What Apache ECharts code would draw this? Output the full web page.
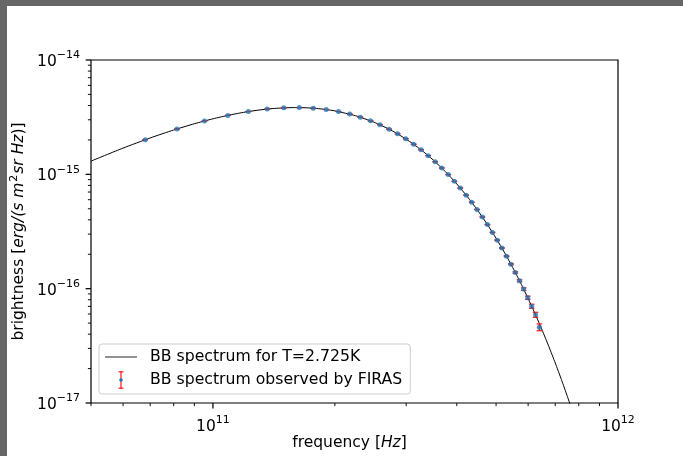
<!DOCTYPE html>
<html>
<head>
<meta charset="utf-8">
<script src="https://cdn.jsdelivr.net/npm/echarts@6/dist/echarts.min.js"></script>
<style>
  html, body { margin: 0; padding: 0; background: #fff; }
  #chart { position: absolute; left: 0; top: 0; width: 683px; height: 456px; }
  .edge { position: absolute; background: #666666; z-index: 10; }
</style>
</head>
<body>
<div id="chart"></div>
<div class="edge" style="left:0;top:0;width:683px;height:6px;"></div>
<div class="edge" style="left:0;top:0;width:7px;height:456px;"></div>
<script>
// Black-body curve (T = 2.725 K), frequency in GHz, brightness in units of 1e-15 erg/(s cm^2 sr Hz)
const curveFreqGHz = [50, 60, 70, 80, 90, 100, 110, 120, 130, 140, 150, 160, 170, 180, 190, 200, 225, 250, 275, 300, 325, 350, 375, 400, 425, 450, 475, 500, 525, 550, 575, 600, 625, 650, 675, 700, 725, 750, 780];
const curveBright15 = [1.3049, 1.6968, 2.0805, 2.4420, 2.7706, 3.0595, 3.3039, 3.5017, 3.6519, 3.7566, 3.8167, 3.8368, 3.8196, 3.7698, 3.6915, 3.5890, 3.2549, 2.8549, 2.4360, 2.0302, 1.6591, 1.3326, 1.0545, 0.82374, 0.63583, 0.48589, 0.36785, 0.27626, 0.20585, 0.15240, 0.11210, 0.082006, 0.059678, 0.043221, 0.031164, 0.022375, 0.016007, 0.011407, 0.007561];

// FIRAS observed points: frequency in GHz, brightness in MJy/sr (1 MJy/sr = 1e-17 erg/(s cm^2 sr Hz)), error bar half-height in 1e-18 units
const firasFreqGHz = [68.05, 81.54, 95.33, 108.82, 122.32, 136.11, 149.60, 163.39, 176.88, 190.37, 204.16, 217.65, 231.14, 244.93, 258.42, 272.21, 285.70, 299.19, 312.98, 326.47, 339.96, 353.76, 367.25, 381.04, 394.53, 408.02, 421.81, 435.30, 448.79, 462.58, 476.07, 489.86, 503.35, 516.84, 530.63, 544.12, 557.91, 571.40, 584.90, 598.69, 612.18, 625.67, 639.46];
const firasMJy = [200.723, 249.508, 293.024, 327.770, 354.081, 372.079, 381.493, 383.478, 378.901, 368.833, 354.063, 336.278, 316.076, 293.924, 271.432, 248.239, 225.940, 204.327, 183.262, 163.830, 145.750, 128.835, 113.568, 99.451, 86.838, 75.89, 65.76, 56.97, 49.23, 42.28, 36.34, 31.05, 26.57, 22.68, 19.25, 16.37, 13.84, 11.72, 9.91, 8.34, 7.03, 5.92, 4.60];
const firasErr18 = [1.26, 1.71, 2.25, 2.07, 1.98, 1.89, 1.62, 1.62, 1.44, 1.26, 1.17, 1.08, 0.99, 0.9, 0.99, 1.08, 1.26, 1.44, 1.62, 1.98, 1.98, 2.07, 2.07, 2.07, 1.98, 1.89, 1.62, 1.62, 1.44, 1.35, 1.26, 1.17, 1.26, 1.71, 1.71, 1.89, 2.07, 2.34, 2.52, 2.7, 2.88, 2.97, 3.15];

// Axis ranges and ticks
const xMin = 5e10, xMax = 1e12, yMin = 1e-17, yMax = 1e-14;
const xMajorTicks = [1e11, 1e12];
const xMinorTicks = [5e10, 6e10, 7e10, 8e10, 9e10, 2e11, 3e11, 4e11, 5e11, 6e11, 7e11, 8e11, 9e11];
const yMajorTicks = [1e-17, 1e-16, 1e-15, 1e-14];
const yMinorTicks = [2e-17, 3e-17, 4e-17, 5e-17, 6e-17, 7e-17, 8e-17, 9e-17, 2e-16, 3e-16, 4e-16, 5e-16, 6e-16, 7e-16, 8e-16, 9e-16, 2e-15, 3e-15, 4e-15, 5e-15, 6e-15, 7e-15, 8e-15, 9e-15];

const FONT = 'DejaVu Sans';
const FS = 15.5;

const curveData = curveFreqGHz.map((f, i) => [f * 1e9, curveBright15[i] * 1e-15]);
const firasData = firasFreqGHz.map((f, i) => [f * 1e9, firasMJy[i] * 1e-17, firasErr18[i] * 1e-18]);
const xTickData = xMajorTicks.map(v => [v, yMin, 1]).concat(xMinorTicks.map(v => [v, yMin, 0]));
const yTickData = yMajorTicks.map(v => [xMin, v, 1]).concat(yMinorTicks.map(v => [xMin, v, 0]));

function powLabel(value) {
  const lg = Math.log10(value);
  const e = Math.round(lg);
  if (Math.abs(lg - e) > 1e-6) return '';
  return '{b|10}{s|' + String(e).replace('-', '\u2212') + '}';
}
const powRich = {
  b: { fontSize: FS, fontFamily: FONT, color: '#000', lineHeight: 18, padding: [4, 0, 0, 0] },
  s: { fontSize: 11, fontFamily: FONT, color: '#000', lineHeight: 12, padding: [0, 0, 9, 0] }
};

function svgIcon(svg) {
  return 'image://data:image/svg+xml;charset=utf-8,' + encodeURIComponent(svg);
}
const lineIcon = svgIcon('<svg xmlns="http://www.w3.org/2000/svg" width="40" height="18" viewBox="0 0 40 18"><line x1="0" y1="9" x2="32" y2="9" stroke="#555" stroke-width="1.3"/></svg>');
const errIcon = svgIcon('<svg xmlns="http://www.w3.org/2000/svg" width="40" height="18" viewBox="0 0 40 18"><g stroke="#ff0000" stroke-width="1.1"><line x1="16" y1="0.8" x2="16" y2="17.2"/><line x1="13.6" y1="0.8" x2="18.4" y2="0.8"/><line x1="13.6" y1="17.2" x2="18.4" y2="17.2"/></g><circle cx="16" cy="9" r="1.8" fill="#1f77b4"/></svg>');

const chart = echarts.init(document.getElementById('chart'), null, { renderer: 'canvas' });
chart.setOption({
  animation: false,
  backgroundColor: '#ffffff',
  textStyle: { fontFamily: FONT },
  grid: { left: 91, top: 60, right: 65, bottom: 53, show: true, borderColor: '#000', borderWidth: 1.2, backgroundColor: 'transparent', containLabel: false, outerBoundsMode: 'none' },
  legend: {
    left: 99, top: 344, orient: 'vertical',
    padding: [4, 8, 5, 6], itemGap: 5, itemWidth: 40, itemHeight: 18,
    backgroundColor: 'rgba(255,255,255,0.8)', borderColor: '#cccccc', borderWidth: 1, borderRadius: 3,
    selectedMode: false,
    textStyle: { fontSize: 15.7, color: '#000', fontFamily: FONT },
    data: [
      { name: 'BB spectrum for T=2.725K', icon: lineIcon },
      { name: 'BB spectrum observed by FIRAS', icon: errIcon }
    ]
  },
  xAxis: {
    type: 'log', logBase: 10, min: xMin, max: xMax,
    axisLine: { show: false }, axisTick: { show: false }, splitLine: { show: false }, minorTick: { show: false },
    axisLabel: { formatter: powLabel, rich: powRich, margin: 13, hideOverlap: false, showMinLabel: true, showMaxLabel: true },
    name: '{n|frequency [}{i|Hz}{n|]}', nameLocation: 'middle', nameGap: 32, nameMoveOverlap: false,
    nameTextStyle: { padding: [0, 10, 0, 0], rich: { n: { fontSize: FS, fontFamily: FONT, color: '#000' }, i: { fontSize: FS, fontFamily: FONT, color: '#000', fontStyle: 'italic' } } }
  },
  yAxis: {
    type: 'log', logBase: 10, min: yMin, max: yMax,
    axisLine: { show: false }, axisTick: { show: false }, splitLine: { show: false }, minorTick: { show: false },
    axisLabel: { formatter: powLabel, rich: powRich, margin: 11, hideOverlap: false, showMinLabel: true, showMaxLabel: true },
    name: '{n|brightness [}{i|erg/(s m}{s|2}{i|sr Hz}{n|)]}', nameLocation: 'middle', nameGap: 63, nameRotate: 90, nameMoveOverlap: false,
    nameTextStyle: { rich: {
      n: { fontSize: FS, fontFamily: FONT, color: '#000', lineHeight: 18 },
      i: { fontSize: FS, fontFamily: FONT, color: '#000', fontStyle: 'italic', lineHeight: 18 },
      s: { fontSize: 11, fontFamily: FONT, color: '#000', lineHeight: 12, padding: [0, 1, 10, 1] }
    } }
  },
  series: [
    {
      name: 'BB spectrum for T=2.725K', type: 'line', data: curveData,
      showSymbol: false, symbol: 'none', smooth: 0.2, z: 2, silent: true,
      lineStyle: { color: '#000', width: 1 }
    },
    {
      name: 'BB spectrum observed by FIRAS', type: 'custom', data: firasData, z: 3, silent: true,
      encode: { x: 0, y: 1 },
      renderItem: function (params, api) {
        const f = api.value(0), v = api.value(1), e = api.value(2);
        const lo = api.coord([f, v - e]);
        const hi = api.coord([f, v + e]);
        const x = lo[0], cw = 2.8;
        const st = { stroke: '#ff0000', lineWidth: 1.1 };
        return {
          type: 'group',
          children: [
            { type: 'line', shape: { x1: x, y1: lo[1], x2: x, y2: hi[1] }, style: st },
            { type: 'line', shape: { x1: x - cw, y1: lo[1], x2: x + cw, y2: lo[1] }, style: st },
            { type: 'line', shape: { x1: x - cw, y1: hi[1], x2: x + cw, y2: hi[1] }, style: st }
          ]
        };
      }
    },
    {
      name: 'FIRAS points', type: 'scatter', data: firasData.map(d => [d[0], d[1]]),
      symbol: 'circle', symbolSize: 5, z: 4, silent: true,
      itemStyle: { color: '#1f77b4' }
    },
    {
      name: 'xticks', type: 'custom', data: xTickData, clip: false, silent: true, z: 5,
      encode: { x: 0, y: 1 },
      renderItem: function (params, api) {
        const p = api.coord([api.value(0), api.value(1)]);
        const major = api.value(2) === 1;
        const len = major ? 5.4 : 3.1;
        return { type: 'line', shape: { x1: p[0], y1: p[1], x2: p[0], y2: p[1] + len }, style: { stroke: '#000', lineWidth: major ? 1.25 : 0.95 } };
      }
    },
    {
      name: 'yticks', type: 'custom', data: yTickData, clip: false, silent: true, z: 5,
      encode: { x: 0, y: 1 },
      renderItem: function (params, api) {
        const p = api.coord([api.value(0), api.value(1)]);
        const major = api.value(2) === 1;
        const len = major ? 5.4 : 3.1;
        return { type: 'line', shape: { x1: p[0], y1: p[1], x2: p[0] - len, y2: p[1] }, style: { stroke: '#000', lineWidth: major ? 1.25 : 0.95 } };
      }
    }
  ]
});
</script>
</body>
</html>
